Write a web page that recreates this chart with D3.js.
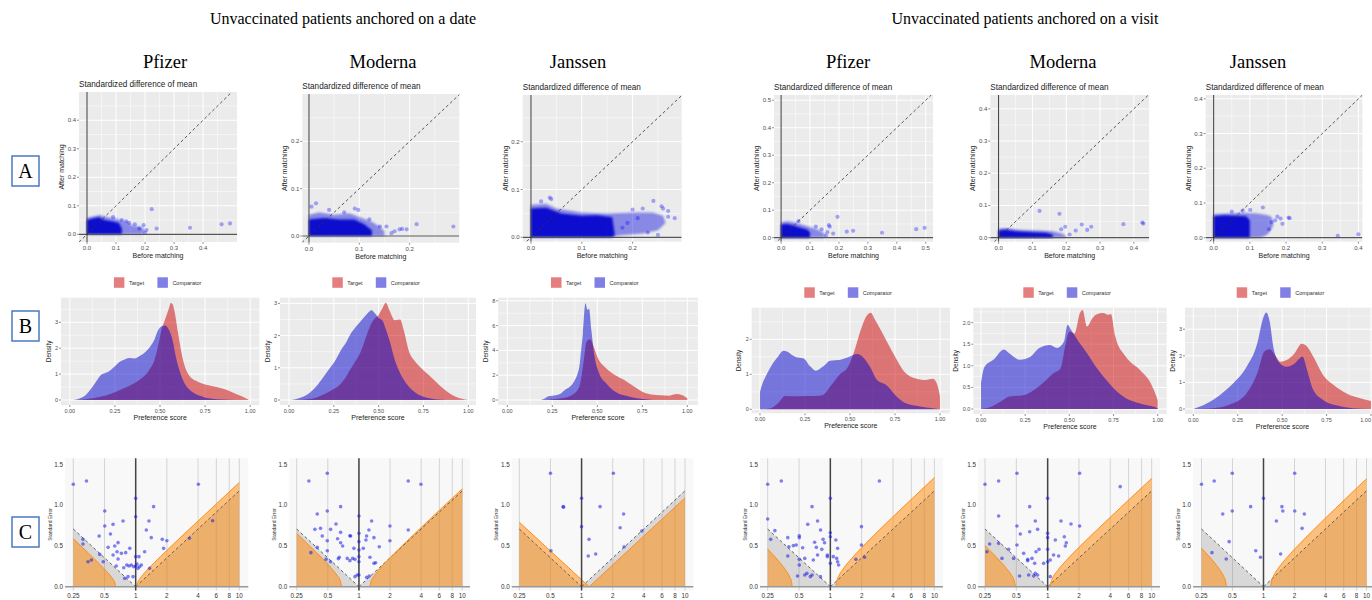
<!DOCTYPE html>
<html>
<head>
<meta charset="utf-8">
<script src="https://cdn.jsdelivr.net/npm/d3@7"></script>
<style>
  body { margin: 0; background: #fff; }
  svg { display: block; }
</style>
</head>
<body>
<script>
// ---------- text ----------
const cohorts = ['Unvaccinated patients anchored on a date', 'Unvaccinated patients anchored on a visit']
const vaccines = ['Pfizer', 'Moderna', 'Janssen', 'Pfizer', 'Moderna', 'Janssen']
const rowLetters = ['A', 'B', 'C']
const psGroups = ['Target', 'Comparator']

// ---------- A: standardized difference of mean (before, after) ----------
// dense core / halo outline of the point cloud, then the sparse points
const coreDatePfizer = [[0,0],[0,0.05],[0.02,0.055],[0.04,0.06],[0.06,0.05],[0.09,0.045],[0.11,0.04],[0.12,0.02],[0.12,0]]
const haloDatePfizer = [[0,0],[0,0.058],[0.02,0.062],[0.045,0.068],[0.07,0.06],[0.1,0.055],[0.13,0.045],[0.16,0.03],[0.19,0.025],[0.2,0.012],[0.19,0]]
const ptsDatePfizer = [[0.223,0.088],[0.24,0.02],[0.355,0.023],[0.464,0.035],[0.493,0.038],[0.195,0.032],[0.18,0.02],[0.205,0.015],[0.145,0.04],[0.165,0.035],[0.12,0.05],[0.135,0.045],[0.09,0.06],[0.2,0.005]]

const coreDateModerna = [[0,0],[0,0.035],[0.03,0.038],[0.06,0.035],[0.09,0.035],[0.11,0.025],[0.125,0.012],[0.125,0]]
const haloDateModerna = [[0,0],[0,0.045],[0.02,0.05],[0.05,0.045],[0.08,0.048],[0.1,0.04],[0.125,0.03],[0.14,0.02],[0.15,0.01],[0.15,0]]
const ptsDateModerna = [[0.014,0.069],[0.005,0.062],[0.091,0.058],[0.098,0.055],[0.141,0.02],[0.154,0.02],[0.18,0.014],[0.194,0.014],[0.214,0.025],[0.287,0.02],[0.164,0.006],[0.07,0.05],[0.04,0.055],[0.17,0.01],[0.185,0.015],[0.12,0.035]]

const coreDateJanssen = [[0,0],[0,0.06],[0.03,0.062],[0.06,0.05],[0.1,0.045],[0.13,0.046],[0.16,0.042],[0.165,0.005],[0.16,0]]
const haloDateJanssen = [[0,0],[0,0.068],[0.03,0.07],[0.05,0.06],[0.1,0.052],[0.15,0.05],[0.2,0.052],[0.24,0.052],[0.26,0.045],[0.265,0.03],[0.25,0.015],[0.22,0.008],[0.17,0.003],[0.16,0]]
const ptsDateJanssen = [[0.037,0.083],[0.04,0.08],[0.257,0.065],[0.26,0.06],[0.241,0.076],[0.27,0.043],[0.283,0.04],[0.22,0.06],[0.2,0.058],[0.23,0.01],[0.25,0.005],[0.02,0.075],[0.27,0.055],[0.19,0.03],[0.21,0.04],[0.18,0.02]]

const coreVisitPfizer = [[0,0],[0,0.048],[0.02,0.05],[0.04,0.045],[0.07,0.035],[0.09,0.03],[0.1,0.02],[0.1,0]]
const haloVisitPfizer = [[0,0],[0,0.056],[0.02,0.06],[0.05,0.055],[0.08,0.045],[0.11,0.035],[0.13,0.028],[0.15,0.015],[0.15,0]]
const ptsVisitPfizer = [[0.195,0.076],[0.165,0.046],[0.168,0.04],[0.227,0.022],[0.249,0.025],[0.349,0.018],[0.467,0.031],[0.496,0.036],[0.14,0.03],[0.16,0.02],[0.18,0.015],[0.12,0.04],[0.06,0.06],[0.155,0.008]]

const coreVisitModerna = [[0,0],[0,0.022],[0.02,0.025],[0.05,0.02],[0.1,0.017],[0.14,0.015],[0.16,0.01],[0.16,0]]
const haloVisitModerna = [[0,0],[0,0.028],[0.02,0.03],[0.06,0.025],[0.12,0.022],[0.16,0.02],[0.19,0.012],[0.2,0.004],[0.2,0]]
const ptsVisitModerna = [[0.121,0.083],[0.18,0.074],[0.197,0.034],[0.185,0.026],[0.228,0.022],[0.246,0.041],[0.262,0.024],[0.274,0.034],[0.369,0.042],[0.425,0.047],[0.428,0.044],[0.21,0.01]]

const coreVisitJanssen = [[0,0],[0,0.062],[0.03,0.065],[0.06,0.063],[0.09,0.062],[0.1,0.05],[0.1,0]]
const haloVisitJanssen = [[0,0],[0,0.068],[0.04,0.07],[0.08,0.072],[0.12,0.07],[0.15,0.065],[0.16,0.06],[0.165,0.035],[0.15,0.01],[0.13,0]]
const ptsVisitJanssen = [[0.136,0.087],[0.101,0.08],[0.176,0.061],[0.207,0.058],[0.21,0.056],[0.343,0.005],[0.4,0.01],[0.153,0.024],[0.17,0.05],[0.16,0.045],[0.185,0.055],[0.08,0.078],[0.05,0.075],[0.19,0.04]]

// ---------- B: preference score densities (score, density) ----------
const targetDatePfizer = [[0.05,0],[0.1,0.04],[0.15,0.1],[0.2,0.17],[0.25,0.3],[0.3,0.45],[0.35,0.62],[0.4,0.85],[0.44,1.15],[0.47,1.55],[0.49,2.1],[0.51,2.75],[0.53,3.15],[0.55,3.55],[0.56,3.75],[0.57,3.7],[0.58,3.45],[0.6,2.6],[0.62,1.8],[0.64,1.25],[0.66,0.97],[0.7,0.74],[0.75,0.6],[0.8,0.52],[0.85,0.43],[0.9,0.3],[0.95,0.15],[0.99,0.02]]
const compDatePfizer = [[0.02,0],[0.05,0.05],[0.09,0.2],[0.12,0.45],[0.15,0.75],[0.17,0.95],[0.2,1.05],[0.22,1.12],[0.25,1.3],[0.27,1.44],[0.3,1.55],[0.33,1.62],[0.36,1.6],[0.38,1.67],[0.41,1.8],[0.43,1.93],[0.45,2.1],[0.47,2.35],[0.49,2.7],[0.51,2.85],[0.53,2.88],[0.55,2.7],[0.57,2.3],[0.59,1.6],[0.62,0.9],[0.64,0.6],[0.66,0.42],[0.7,0.22],[0.74,0.12],[0.78,0.06],[0.85,0.02],[0.92,0]]

const targetDateModerna = [[0.05,0],[0.1,0.02],[0.15,0.07],[0.19,0.16],[0.23,0.28],[0.27,0.41],[0.31,0.65],[0.34,0.93],[0.37,1.2],[0.4,1.5],[0.42,1.8],[0.44,2.12],[0.47,2.48],[0.5,2.64],[0.52,2.84],[0.54,3.02],[0.56,2.79],[0.59,2.48],[0.62,2.5],[0.64,2.17],[0.67,1.5],[0.7,1.22],[0.73,1.03],[0.79,0.72],[0.86,0.36],[0.93,0.1],[1.0,0]]
const compDateModerna = [[0.01,0],[0.05,0.05],[0.1,0.16],[0.15,0.41],[0.19,0.7],[0.22,0.93],[0.26,1.24],[0.29,1.55],[0.32,1.8],[0.34,2.02],[0.37,2.25],[0.39,2.38],[0.43,2.64],[0.46,2.79],[0.48,2.69],[0.5,2.55],[0.52,2.48],[0.54,2.2],[0.56,1.86],[0.59,1.24],[0.62,0.83],[0.66,0.47],[0.71,0.21],[0.75,0.1],[0.79,0.05],[0.88,0]]

const targetDateJanssen = [[0,0],[0.2,0],[0.24,0.05],[0.3,0.15],[0.34,0.27],[0.37,0.5],[0.4,1.07],[0.41,1.7],[0.42,2.68],[0.43,3.8],[0.44,4.7],[0.46,4.9],[0.48,4.3],[0.5,3.49],[0.54,2.68],[0.57,2.3],[0.6,2.0],[0.65,1.61],[0.7,1.13],[0.75,0.67],[0.8,0.45],[0.85,0.38],[0.9,0.35],[0.94,0.48],[0.97,0.4],[1.0,0.13]]
const compDateJanssen = [[0,0],[0.18,0],[0.21,0.15],[0.23,0.3],[0.27,0.38],[0.3,0.55],[0.32,0.8],[0.35,1.1],[0.37,1.48],[0.39,2.1],[0.4,2.68],[0.41,4.0],[0.42,5.37],[0.434,7.8],[0.446,7.25],[0.454,7.38],[0.467,5.64],[0.485,3.49],[0.51,2.15],[0.55,1.34],[0.6,0.67],[0.68,0.27],[0.78,0.05],[0.85,0],[1,0]]

const targetVisitPfizer = [[0,0],[0.06,0.03],[0.1,0.17],[0.14,0.38],[0.2,0.37],[0.25,0.38],[0.31,0.38],[0.35,0.41],[0.39,0.65],[0.44,0.98],[0.49,1.22],[0.52,1.6],[0.56,2.27],[0.59,2.65],[0.615,2.76],[0.64,2.55],[0.69,2.08],[0.74,1.6],[0.81,1.03],[0.86,0.89],[0.92,0.84],[0.96,0.87],[0.985,0.7],[1.0,0.36]]
const compVisitPfizer = [[0,0.5],[0.015,0.75],[0.03,0.92],[0.07,1.3],[0.1,1.5],[0.13,1.67],[0.15,1.65],[0.17,1.58],[0.2,1.49],[0.24,1.46],[0.28,1.22],[0.31,1.1],[0.35,1.22],[0.39,1.39],[0.44,1.41],[0.49,1.49],[0.54,1.58],[0.57,1.5],[0.61,1.22],[0.65,0.84],[0.7,0.7],[0.76,0.36],[0.81,0.17],[0.89,0.08],[0.96,0.03],[1.0,0]]

const targetVisitModerna = [[0,0],[0.05,0.04],[0.11,0.17],[0.16,0.29],[0.24,0.32],[0.3,0.44],[0.35,0.6],[0.41,0.83],[0.45,0.94],[0.48,1.52],[0.5,1.79],[0.53,1.75],[0.56,2.22],[0.575,2.29],[0.6,1.91],[0.63,2.1],[0.65,2.18],[0.69,2.22],[0.72,2.18],[0.735,2.2],[0.76,1.68],[0.82,1.21],[0.9,0.9],[0.96,0.6],[1.0,0.21]]
const compVisitModerna = [[0,0.6],[0.02,0.98],[0.07,1.14],[0.13,1.38],[0.16,1.29],[0.22,1.14],[0.28,1.21],[0.33,1.41],[0.39,1.48],[0.43,1.41],[0.47,1.56],[0.49,1.95],[0.51,1.83],[0.54,1.64],[0.6,1.29],[0.65,0.98],[0.71,0.67],[0.77,0.4],[0.82,0.25],[0.9,0.13],[0.98,0.05],[1,0.02]]

const targetVisitJanssen = [[0,0],[0.11,0.03],[0.2,0.15],[0.3,0.59],[0.36,1.34],[0.4,2.16],[0.43,2.25],[0.46,2.03],[0.49,1.78],[0.525,1.84],[0.57,2.1],[0.61,2.45],[0.64,2.35],[0.675,1.97],[0.73,1.28],[0.79,0.9],[0.86,0.59],[0.94,0.4],[1.0,0.3]]
const compVisitJanssen = [[0,0],[0.075,0.21],[0.15,0.53],[0.225,0.97],[0.3,1.59],[0.36,2.47],[0.39,3.35],[0.41,3.63],[0.43,3.29],[0.45,2.35],[0.48,1.78],[0.525,1.59],[0.56,1.66],[0.6,1.91],[0.615,1.97],[0.64,1.47],[0.675,0.72],[0.73,0.34],[0.81,0.13],[0.9,0.03],[1,0]]

// ---------- C: negative controls (estimate, standard error) ----------
const calTicks = [0.25, 0.5, 1, 2, 4, 6, 8, 10]
const calTickLabels = ['0.25', '0.5', '1', '2', '4', '6', '8', '10']
const seTicks = [0, 0.5, 1, 1.5]
const nullLeft = [[0.25, 0.707], [1, 0]]
const nullRight = [[1, 0], [10, 1.175]]

const calDatePfizer = [[0.25,1.255],[0.335,1.295],[0.503,0.928],[0.503,0.744],[0.444,0.62],[0.605,0.764],[0.571,0.646],[0.755,0.805],[0.542,0.482],[0.628,0.499],[0.676,0.54],[0.661,0.429],[0.728,0.409],[0.801,0.417],[0.877,0.47],[0.605,0.388],[0.676,0.339],[0.649,0.253],[0.767,0.233],[0.821,0.266],[0.863,0.253],[0.908,0.266],[0.943,0.123],[0.784,0.102],[0.844,0.123],[1,1.083],[1,0.858],[1,0.368],[1,0.253],[1.03,0.278],[1.05,0.225],[1.134,0.266],[1.22,0.429],[1.343,0.805],[1.266,0.695],[1.489,0.981],[1.414,0.601],[1.362,0.225],[1.805,0.58],[2,0.564],[1.86,0.47],[3.3,0.593],[4.03,1.255],[5.53,0.809],[0.347,0.306],[0.374,0.327],[0.31,0.58],[0.31,0.523],[0.45,0.396],[0.486,0.306],[1.09,0.245],[1.076,0.368],[0.956,0.245]]
const bandLeftDatePfizer = [[0.25,0.588],[0.3,0.493],[0.35,0.411],[0.4,0.34],[0.45,0.275],[0.5,0.215],[0.55,0.157],[0.6,0.096],[0.63,0.046],[0.641,0]]
const bandRightDatePfizer = [[1.025,0],[1.05,0.055],[1.1,0.099],[1.25,0.185],[1.5,0.29],[2,0.445],[3,0.657],[4,0.805],[6,1.014],[10,1.277]]

const calDateModerna = [[0.328,1.295],[0.494,1.39],[0.494,0.928],[0.395,0.891],[0.665,0.981],[0.6,0.768],[0.375,0.703],[0.425,0.715],[0.442,0.621],[0.494,0.564],[0.532,0.703],[0.622,0.588],[0.665,0.666],[0.665,0.539],[0.695,0.499],[0.818,0.625],[0.83,0.621],[0.894,0.47],[0.915,0.335],[0.771,0.347],[0.645,0.36],[0.632,0.343],[0.494,0.441],[0.395,0.482],[0.343,0.417],[0.48,0.335],[0.532,0.306],[0.818,0.319],[0.869,0.347],[1,0.866],[1,0.654],[1,0.552],[1,0.45],[1,0.368],[1,0.306],[1,0.143],[0.963,0.143],[0.915,0.123],[1.101,0.47],[1.169,0.572],[1.186,0.621],[1.249,0.695],[1.326,0.805],[1.397,0.601],[1.278,0.36],[1.397,0.286],[1.45,0.294],[1.573,0.49],[1.186,0.114],[1.259,0.131],[1.995,0.744],[1.995,0.564],[3,1.295],[3,0.695],[3.98,1.255]]
const bandLeftDateModerna = [[0.25,0.652],[0.3,0.556],[0.35,0.473],[0.4,0.401],[0.45,0.336],[0.5,0.274],[0.55,0.216],[0.62,0.132],[0.66,0.073],[0.68,0]]
const bandRightDateModerna = [[1.278,0],[1.3,0.054],[1.35,0.099],[1.5,0.181],[2,0.355],[3,0.574],[4,0.725],[6,0.936],[10,1.2]]

const calDateJanssen = [[0.5,1.39],[0.663,0.981],[0.67,0.975],[2.03,1.39],[1,1.083],[1,0.736],[1.51,0.981],[2.55,0.891],[2.36,0.723],[1.18,0.58],[1.16,0.376],[1.37,0.4],[2.58,0.49],[3.82,0.682],[0.506,0.441]]
const bandLeftDateJanssen = [[0.25,0.79],[1.185,0]]
const bandRightDateJanssen = [[1.185,0],[10,1.088]]

const calVisitPfizer = [[0.25,1.255],[0.338,1.295],[0.667,0.981],[0.25,0.83],[0.293,0.687],[0.267,0.58],[0.39,0.601],[0.4,0.49],[0.441,0.503],[0.503,0.601],[0.503,0.625],[0.542,0.478],[0.47,0.511],[0.607,0.764],[0.754,0.805],[0.805,0.695],[0.706,0.544],[0.733,0.482],[0.754,0.388],[0.852,0.58],[0.88,0.539],[0.828,0.458],[0.503,0.335],[0.503,0.266],[0.568,0.347],[0.39,0.376],[0.484,0.131],[0.568,0.143],[0.595,0.163],[0.667,0.143],[0.642,0.123],[0.805,0.123],[0.686,0.327],[0.936,0.368],[0.936,0.388],[1,1.083],[1,0.662],[1,0.613],[1,0.286],[1.068,0.368],[1.13,0.572],[1.174,0.47],[1.174,0.306],[1.2,0.266],[1.152,0.347],[1.99,0.736],[1.99,0.511],[2.13,0.36],[1.76,0.335],[2.96,1.295]]
const bandLeftVisitPfizer = [[0.25,0.461],[0.3,0.352],[0.35,0.25],[0.38,0.186],[0.41,0.11],[0.425,0.05],[0.429,0]]
const bandRightVisitPfizer = [[1.131,0],[1.15,0.066],[1.2,0.126],[1.35,0.23],[1.6,0.345],[2,0.478],[3,0.703],[5,0.975],[10,1.337]]

const calVisitModerna = [[0.25,1.255],[0.338,1.295],[0.507,1.39],[0.338,0.866],[0.672,0.981],[0.507,0.744],[0.507,0.511],[0.761,0.805],[0.546,0.646],[0.801,0.703],[0.672,0.674],[0.422,0.458],[0.338,0.531],[0.277,0.523],[0.261,0.429],[0.364,0.347],[0.471,0.347],[0.588,0.409],[0.643,0.335],[0.643,0.319],[0.707,0.347],[0.773,0.429],[0.826,0.458],[0.915,0.286],[0.538,0.131],[0.657,0.143],[0.734,0.131],[0.761,0.163],[0.801,0.143],[0.75,0.286],[1,1.083],[1,0.654],[1,0.601],[1,0.458],[1,0.306],[1.06,0.327],[1.14,0.388],[1.185,0.572],[1.275,0.376],[1.343,0.805],[1.446,0.613],[1.478,0.499],[1.51,0.539],[1.676,0.768],[2.03,1.39],[2.03,0.744],[4.98,1.226],[1.06,0.123]]
const bandLeftVisitModerna = [[0.25,0.503],[0.3,0.402],[0.35,0.312],[0.4,0.227],[0.45,0.139],[0.475,0.081],[0.49,0]]
const bandRightVisitModerna = [[1.06,0],[1.07,0.044],[1.1,0.088],[1.25,0.2],[1.5,0.318],[2,0.482],[3,0.7],[5,0.968],[10,1.327]]

const calVisitJanssen = [[0.25,1.255],[0.332,1.295],[0.497,1.39],[0.497,0.928],[0.75,0.981],[0.402,0.891],[0.464,0.552],[0.316,0.417],[0.434,0.339],[0.841,0.441],[0.935,0.36],[1,1.083],[1.334,0.805],[1.54,0.928],[1.51,0.981],[1.467,0.4],[2.01,0.928],[2.01,1.39],[2.37,0.715],[2.49,0.891]]
const bandLeftVisitJanssen = [[0.25,0.473],[0.3,0.364],[0.35,0.262],[0.38,0.2],[0.41,0.128],[0.43,0.057],[0.435,0]]
const bandRightVisitJanssen = [[1.177,0],[1.19,0.054],[1.25,0.129],[1.4,0.23],[1.7,0.361],[2,0.459],[3,0.686],[5,0.959],[10,1.3215]]

// ---------- layout ----------
const W = 1372
const sans = 'Liberation Sans, Arial, sans-serif'
const serif = 'Liberation Serif, Times New Roman, serif'
const svg = d3.select('body').append('svg').attr('width', W).attr('height', 600)
const defs = svg.append('defs')
defs.append('filter').attr('id', 'soft').attr('x', '-10%').attr('y', '-10%').attr('width', '120%').attr('height', '120%')
    .append('feGaussianBlur').attr('stdDeviation', 0.9)
let clipCount = 0
const clip = (x0, y0, x1, y1) => {
    const id = 'clip' + (clipCount++)
    defs.append('clipPath').attr('id', id).append('rect')
        .attr('x', x0).attr('y', y0).attr('width', x1 - x0).attr('height', y1 - y0)
    return `url(#${id})`
}
const txt = (g, x, y, s, size, anchor, fill) => g.append('text')
    .attr('x', x).attr('y', y).attr('font-family', sans).attr('font-size', size)
    .attr('text-anchor', anchor || 'start').attr('fill', fill || '#222').text(s)

// headers
svg.selectAll('.cohort').data(cohorts).enter().append('text')
    .attr('x', (d, i) => [343, 1025][i]).attr('y', 24)
    .attr('text-anchor', 'middle').attr('font-family', serif).attr('font-size', 16)
    .text(d => d)

const headerX = [165, 383, 578, 848, 1063, 1258]
svg.selectAll('.vac').data(vaccines).enter().append('text')
    .attr('x', (d, i) => headerX[i]).attr('y', 68)
    .attr('text-anchor', 'middle').attr('font-family', serif).attr('font-size', 18.5)
    .text(d => d)

const letterY = [156, 311, 517]
rowLetters.forEach((l, i) => {
    svg.append('rect').attr('x', 12).attr('y', letterY[i]).attr('width', 27).attr('height', 30)
        .attr('fill', '#fff').attr('stroke', '#4a78c8').attr('stroke-width', 1.5)
    svg.append('text').attr('x', 25.5).attr('y', letterY[i] + 22).attr('text-anchor', 'middle')
        .attr('font-family', serif).attr('font-size', 20).text(l)
})

// ---------- row A ----------
const balLayout = [
    { left: 79, right: 237, top: 92, bottom: 242, xDom: [-0.0276, 0.517], yDom: [-0.027, 0.499], ticks: [0, 0.1, 0.2, 0.3, 0.4] },
    { left: 302.3, right: 459.3, top: 94, bottom: 242.7, xDom: [-0.0133, 0.2988], yDom: [-0.0142, 0.3002], ticks: [0, 0.1, 0.2] },
    { left: 522.7, right: 681.7, top: 95, bottom: 241.7, xDom: [-0.0163, 0.2967], yDom: [-0.0092, 0.2977], ticks: [0, 0.1, 0.2] },
    { left: 774, right: 933, top: 95, bottom: 241.7, xDom: [-0.0245, 0.525], yDom: [-0.0145, 0.519], ticks: [0, 0.1, 0.2, 0.3, 0.4, 0.5] },
    { left: 990.3, right: 1149.1, top: 95, bottom: 241.7, xDom: [-0.0245, 0.445], yDom: [-0.0124, 0.443], ticks: [0, 0.1, 0.2, 0.3, 0.4] },
    { left: 1205.7, right: 1362.4, top: 95, bottom: 241.7, xDom: [-0.022, 0.411], yDom: [-0.0115, 0.411], ticks: [0, 0.1, 0.2, 0.3, 0.4] }
]
const balCore = [coreDatePfizer, coreDateModerna, coreDateJanssen, coreVisitPfizer, coreVisitModerna, coreVisitJanssen]
const balHalo = [haloDatePfizer, haloDateModerna, haloDateJanssen, haloVisitPfizer, haloVisitModerna, haloVisitJanssen]
const balPts = [ptsDatePfizer, ptsDateModerna, ptsDateJanssen, ptsVisitPfizer, ptsVisitModerna, ptsVisitJanssen]

const gridLines = (g, x, y, xt, yt, L, w) => {
    g.selectAll(null).data(xt).enter().append('line')
        .attr('x1', d => x(d)).attr('x2', d => x(d)).attr('y1', L.top).attr('y2', L.bottom)
        .attr('stroke', '#fff').attr('stroke-width', w)
    g.selectAll(null).data(yt).enter().append('line')
        .attr('y1', d => y(d)).attr('y2', d => y(d)).attr('x1', L.left).attr('x2', L.right)
        .attr('stroke', '#fff').attr('stroke-width', w)
}
const midTicks = (t, dom) => {
    const s = t[1] - t[0]
    return [t[0] - s / 2].concat(t.map(v => v + s / 2)).filter(v => v > dom[0] && v < dom[1])
}

balLayout.forEach((L, i) => {
    const x = d3.scaleLinear().domain(L.xDom).range([L.left, L.right])
    const y = d3.scaleLinear().domain(L.yDom).range([L.bottom, L.top])
    const g = svg.append('g')
    g.append('rect').attr('x', L.left).attr('y', L.top)
        .attr('width', L.right - L.left).attr('height', L.bottom - L.top).attr('fill', '#EBEBEB')
    gridLines(g, x, y, midTicks(L.ticks, L.xDom), midTicks(L.ticks, L.yDom), L, 0.5)
    gridLines(g, x, y, L.ticks, L.ticks, L, 1)

    const inner = g.append('g').attr('clip-path', clip(L.left, L.top, L.right, L.bottom))
    const poly = pts => 'M' + pts.map(d => [x(d[0]), y(d[1])].join(',')).join('L') + 'Z'
    inner.append('path').attr('d', poly(balHalo[i])).attr('fill', '#0000DD').attr('opacity', 0.42)
        .attr('filter', 'url(#soft)')
    inner.append('path').attr('d', poly(balCore[i])).attr('fill', '#0000CC').attr('opacity', 0.9)
        .attr('filter', 'url(#soft)')
    inner.selectAll('circle').data(balPts[i]).enter().append('circle')
        .attr('cx', d => x(d[0])).attr('cy', d => y(d[1])).attr('r', 2.1)
        .attr('fill', '#0000FF').attr('opacity', 0.32)
    const lo = Math.min(L.xDom[0], L.yDom[0]), hi = Math.max(L.xDom[1], L.yDom[1])
    inner.append('line').attr('x1', x(lo)).attr('y1', y(lo)).attr('x2', x(hi)).attr('y2', y(hi))
        .attr('stroke', '#333').attr('stroke-width', 0.8).attr('stroke-dasharray', '3,2.5')
    inner.append('line').attr('x1', L.left).attr('x2', L.right).attr('y1', y(0)).attr('y2', y(0))
        .attr('stroke', '#555').attr('stroke-width', 1.2)
    inner.append('line').attr('x1', x(0)).attr('x2', x(0)).attr('y1', L.top).attr('y2', L.bottom)
        .attr('stroke', '#222').attr('stroke-width', 0.9)

    L.ticks.forEach(t => {
        g.append('line').attr('x1', x(t)).attr('x2', x(t)).attr('y1', L.bottom).attr('y2', L.bottom + 2)
            .attr('stroke', '#444').attr('stroke-width', 0.6)
        txt(g, x(t), L.bottom + 8, d3.format('.1f')(t), 6, 'middle', '#4D4D4D')
        g.append('line').attr('x1', L.left - 2).attr('x2', L.left).attr('y1', y(t)).attr('y2', y(t))
            .attr('stroke', '#444').attr('stroke-width', 0.6)
        txt(g, L.left - 3, y(t) + 2, d3.format('.1f')(t), 6, 'end', '#4D4D4D')
    })
    txt(g, L.left, L.top - 5, 'Standardized difference of mean', 8.2)
    txt(g, (L.left + L.right) / 2, L.bottom + 16, 'Before matching', 7, 'middle')
    txt(g, 0, 0, 'After matching', 7, 'middle')
        .attr('transform', `translate(${L.left - 15},${(L.top + L.bottom) / 2}) rotate(-90)`)
})

// ---------- row B ----------
const psLayout = [
    { left: 61, right: 259.4, top: 297.7, bottom: 405, x0: 69.8, x1: 250.2, y0: 400, y1: 374.1, yTicks: [0, 1, 2, 3], legX: 113.9, legY: 277.3 },
    { left: 280, right: 476, top: 297.7, bottom: 405, x0: 289, x1: 468.3, y0: 400, y1: 367.8, yTicks: [0, 1, 2, 3], legX: 332.3, legY: 277.3 },
    { left: 498.2, right: 697.9, top: 297.7, bottom: 405, x0: 507.3, x1: 687.3, y0: 400, y1: 387.6, yTicks: [0, 2, 4, 6, 8], legX: 551, legY: 277.3 },
    { left: 751.7, right: 950, top: 307.7, bottom: 413.3, x0: 760, x1: 940, y0: 409.3, y1: 374.3, yTicks: [0, 1, 2], legX: 804.3, legY: 287.3 },
    { left: 973.3, right: 1166.7, top: 307.7, bottom: 414, x0: 981, x1: 1157.7, y0: 409, y1: 365.8, yTicks: [0, 0.5, 1, 1.5, 2], legX: 1023.3, legY: 287.3 },
    { left: 1185, right: 1380, top: 307.7, bottom: 414, x0: 1193.3, x1: 1371, y0: 409, y1: 382.4, yTicks: [0, 1, 2, 3], legX: 1236.7, legY: 287.3 }
]
const psTarget = [targetDatePfizer, targetDateModerna, targetDateJanssen, targetVisitPfizer, targetVisitModerna, targetVisitJanssen]
const psComp = [compDatePfizer, compDateModerna, compDateJanssen, compVisitPfizer, compVisitModerna, compVisitJanssen]
const psTicks = [0, 0.25, 0.5, 0.75, 1]
const psColors = ['#CC0000', '#0000CC']

psLayout.forEach((L, i) => {
    const x = d3.scaleLinear().domain([0, 1]).range([L.x0, L.x1])
    const y = d3.scaleLinear().domain([0, 1]).range([L.y0, L.y1])
    const g = svg.append('g')
    g.append('rect').attr('x', L.left).attr('y', L.top)
        .attr('width', L.right - L.left).attr('height', L.bottom - L.top).attr('fill', '#EBEBEB')
    const yDom = [y.invert(L.bottom), y.invert(L.top)]
    gridLines(g, x, y, midTicks(psTicks, [-0.05, 1.05]), midTicks(L.yTicks, yDom), L, 0.5)
    gridLines(g, x, y, psTicks, L.yTicks, L, 1)

    const inner = g.append('g').attr('clip-path', clip(L.left, L.top, L.right, L.bottom))
    const area = d3.area().x(d => x(d[0])).y0(y(0)).y1(d => y(d[1])).curve(d3.curveMonotoneX)
    inner.append('path').attr('d', area(psTarget[i])).attr('fill', psColors[0]).attr('fill-opacity', 0.5)
    inner.append('path').attr('d', area(psComp[i])).attr('fill', psColors[1]).attr('fill-opacity', 0.5)

    const yFmt = L.yTicks.some(t => t % 1) ? d3.format('.1f') : d3.format('d')
    psTicks.forEach(t => {
        g.append('line').attr('x1', x(t)).attr('x2', x(t)).attr('y1', L.bottom).attr('y2', L.bottom + 2)
            .attr('stroke', '#444').attr('stroke-width', 0.6)
        // keep the last label inside the page when the panel runs off the edge
        const over = x(t) + 6 > W
        txt(g, over ? W - 1 : x(t), L.bottom + 7.5, d3.format('.2f')(t), 5.5, over ? 'end' : 'middle', '#4D4D4D')
    })
    L.yTicks.forEach(t => {
        g.append('line').attr('x1', L.left - 2).attr('x2', L.left).attr('y1', y(t)).attr('y2', y(t))
            .attr('stroke', '#444').attr('stroke-width', 0.6)
        txt(g, L.left - 3, y(t) + 2, yFmt(t), 5.5, 'end', '#4D4D4D')
    })
    txt(g, (L.left + L.right) / 2, L.bottom + 15, 'Preference score', 7, 'middle')
    txt(g, 0, 0, 'Density', 6.5, 'middle')
        .attr('transform', `translate(${L.left - (i === 4 ? 15 : 10.5)},${(L.top + L.bottom) / 2}) rotate(-90)`)

    // legend
    const offs = [0, 43.5]
    psGroups.forEach((name, k) => {
        g.append('rect').attr('x', L.legX + offs[k]).attr('y', L.legY).attr('width', 10.5).attr('height', 10.5)
            .attr('fill', psColors[k]).attr('fill-opacity', 0.5)
        txt(g, L.legX + offs[k] + 15, L.legY + 7.3, name, 5.5, 'start', '#333')
    })
})

// ---------- row C ----------
const calLayout = [
    { left: 65, right: 248.3, xa: 73.3, xb: 239.3 },
    { left: 289.3, right: 470, xa: 296.7, xb: 462.3 },
    { left: 511.7, right: 693.3, xa: 519.3, xb: 685 },
    { left: 760, right: 943, xa: 767.7, xb: 934.4 },
    { left: 978, right: 1160, xa: 985, xb: 1151.7 },
    { left: 1193, right: 1372, xa: 1201.5, xb: 1366.5 }
]
const calPts = [calDatePfizer, calDateModerna, calDateJanssen, calVisitPfizer, calVisitModerna, calVisitJanssen]
const bandLeft = [bandLeftDatePfizer, bandLeftDateModerna, bandLeftDateJanssen, bandLeftVisitPfizer, bandLeftVisitModerna, bandLeftVisitJanssen]
const bandRight = [bandRightDatePfizer, bandRightDateModerna, bandRightDateJanssen, bandRightVisitPfizer, bandRightVisitModerna, bandRightVisitJanssen]

calLayout.forEach((L, i) => {
    const x = d3.scaleLog().domain([0.25, 10]).range([L.xa, L.xb])
    const y = d3.scaleLinear().domain([0, 1.5]).range([586.7, 464.3])
    const top = 458.3, bottom = 590.5
    const g = svg.append('g')
    g.append('rect').attr('x', L.left).attr('y', top)
        .attr('width', L.right - L.left).attr('height', bottom - top).attr('fill', '#F8F8F8')
    g.selectAll(null).data(calTicks).enter().append('line')
        .attr('x1', d => x(d)).attr('x2', d => x(d)).attr('y1', top).attr('y2', bottom)
        .attr('stroke', '#CFCFCF').attr('stroke-width', 0.9)

    const tri = pts => 'M' + pts.map(d => [x(d[0]), y(d[1])].join(',')).join('L') + 'Z'
    g.append('path').attr('d', tri([[0.25, 0]].concat(nullLeft))).attr('fill', '#808080').attr('fill-opacity', 0.27)
    g.append('path').attr('d', tri(nullRight.concat([[10, 0]]))).attr('fill', '#808080').attr('fill-opacity', 0.27)

    const area = d3.area().x(d => x(d[0])).y0(y(0)).y1(d => y(d[1])).curve(d3.curveMonotoneX)
    const line = d3.line().x(d => x(d[0])).y(d => y(d[1])).curve(d3.curveMonotoneX)
    ;[bandLeft[i], bandRight[i]].forEach(b => {
        g.append('path').attr('d', area(b)).attr('fill', '#FF8800').attr('fill-opacity', 0.5)
    })
    ;[nullLeft, nullRight].forEach(n => {
        g.append('path').attr('d', line(n)).attr('fill', 'none')
            .attr('stroke', '#555').attr('stroke-width', 0.9).attr('stroke-dasharray', '3,2.5')
    })
    ;[bandLeft[i], bandRight[i]].forEach(b => {
        g.append('path').attr('d', line(b)).attr('fill', 'none')
            .attr('stroke', '#FF8C1A').attr('stroke-width', 1)
    })
    g.append('line').attr('x1', L.left).attr('x2', L.right).attr('y1', y(0)).attr('y2', y(0))
        .attr('stroke', '#999').attr('stroke-width', 1.4)
    g.append('line').attr('x1', x(1)).attr('x2', x(1)).attr('y1', top).attr('y2', bottom)
        .attr('stroke', '#444').attr('stroke-width', 1.5)

    g.selectAll('circle').data(calPts[i]).enter().append('circle')
        .attr('cx', d => x(d[0])).attr('cy', d => y(d[1])).attr('r', 1.8)
        .attr('fill', '#1A1AE6').attr('fill-opacity', 0.55)

    calTicks.forEach((t, k) => txt(g, x(t), 597.5, calTickLabels[k], 6.3, 'middle', '#333'))
    seTicks.forEach(t => txt(g, L.left - 2, y(t) + 2.2, d3.format('.1f')(t), 6.3, 'end', '#333'))
    txt(g, 0, 0, 'Standard Error', 5, 'middle', '#333')
        .attr('transform', `translate(${L.left - 13.5},${(top + bottom) / 2}) rotate(-90)`)
})
</script>
</body>
</html>
